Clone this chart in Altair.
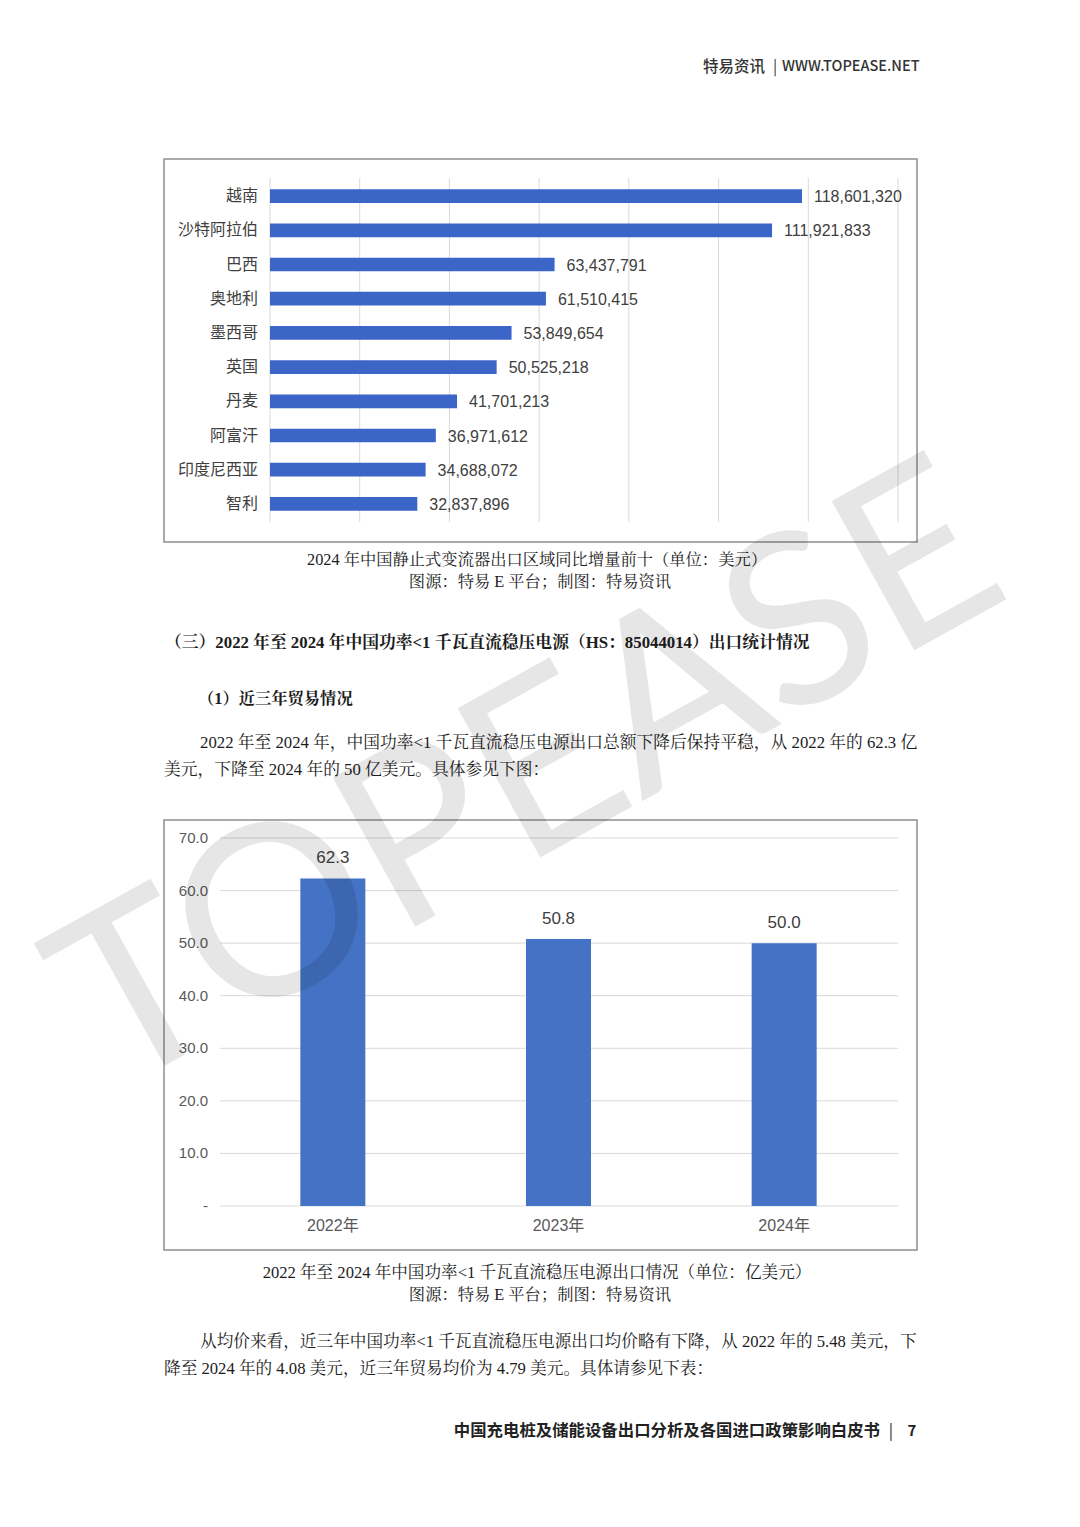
import altair as alt
import pandas as pd

# ---------------- data ----------------
countries = ["越南", "沙特阿拉伯", "巴西", "奥地利", "墨西哥", "英国", "丹麦", "阿富汗", "印度尼西亚", "智利"]
values1 = [118601320, 111921833, 63437791, 61510415, 53849654, 50525218, 41701213, 36971612, 34688072, 32837896]
grid1 = [0, 20000000, 40000000, 60000000, 80000000, 100000000, 120000000, 140000000]

years = ["2022年", "2023年", "2024年"]
values2 = [62.3, 50.8, 50.0]
ticks2 = [0, 10, 20, 30, 40, 50, 60, 70]
tick_labels2 = ["-", "10.0", "20.0", "30.0", "40.0", "50.0", "60.0", "70.0"]

df1 = pd.DataFrame({"country": countries, "value": values1})
dfg1 = pd.DataFrame({"g": grid1})
df2 = pd.DataFrame({"year": years, "value": values2})
dft2 = pd.DataFrame({"t": ticks2, "label": tick_labels2})

W, H = 1064, 1511


def P(v):
    # page pixel -> chart pixel (8px page margin)
    return v - 8


CHART_FONT = "Liberation Sans, Noto Sans CJK SC, sans-serif"
BODY_FONT = "Liberation Serif, Noto Serif CJK SC, Noto Sans CJK SC, serif"
HEAD_FONT = "Noto Sans CJK SC, sans-serif"
BAR1 = "#3B65C6"
BAR2 = "#4472C4"
GRID = "#d9d9d9"

one = alt.Data(values=[{}])


def txt(s, x, y, size=16, weight="normal", align="left", font=BODY_FONT, color="#1c1c1c"):
    return alt.Chart(one).mark_text(
        text=s, align=align, baseline="middle", fontSize=size, fontWeight=weight,
        font=font, color=color
    ).encode(x=alt.value(P(x)), y=alt.value(P(y)))


def box(x1, y1, x2, y2):
    return alt.Chart(one).mark_rect(fill="white", stroke="#8f8f8f", strokeWidth=1.5).encode(
        x=alt.value(P(x1)), x2=alt.value(P(x2)), y=alt.value(P(y1)), y2=alt.value(P(y2))
    )


# ---------------- chart 1 (horizontal bars) ----------------
x1s = alt.Scale(domain=[0, 140000000], range=[P(270), P(898)], nice=False, zero=True)
y1s = alt.Scale(domain=countries, range=[P(179), P(521)], paddingInner=0.6, paddingOuter=0.3)

grid_1 = alt.Chart(dfg1).mark_rule(color=GRID, strokeWidth=1).encode(
    x=alt.X("g:Q", scale=x1s, axis=None),
    y=alt.value(P(178)), y2=alt.value(P(522)),
)
bars_1 = alt.Chart(df1).mark_bar(color=BAR1).encode(
    x=alt.X("value:Q", scale=x1s, axis=None),
    y=alt.Y("country:N", scale=y1s, axis=None, sort=countries),
)
vlab_1 = alt.Chart(df1).mark_text(
    align="left", baseline="middle", dx=12, dy=1, fontSize=16, font=CHART_FONT, color="#404040"
).encode(
    x=alt.X("value:Q", scale=x1s, axis=None),
    y=alt.Y("country:N", scale=y1s, axis=None, sort=countries),
    text=alt.Text("value:Q", format=",d"),
)
clab_1 = alt.Chart(df1).mark_text(
    align="right", baseline="middle", fontSize=16, font=CHART_FONT, color="#404040"
).encode(
    x=alt.value(P(258)),
    y=alt.Y("country:N", scale=y1s, axis=None, sort=countries),
    text="country:N",
)

# ---------------- chart 2 (vertical bars) ----------------
x2s = alt.Scale(domain=years, range=[P(220), P(897)], paddingInner=0.712, paddingOuter=0.356)
y2s = alt.Scale(domain=[0, 70], range=[P(1206), P(838)], nice=False, zero=True)

grid_2 = alt.Chart(dft2).mark_rule(color=GRID, strokeWidth=1).encode(
    y=alt.Y("t:Q", scale=y2s, axis=None),
    x=alt.value(P(220)), x2=alt.value(P(898)),
)
bars_2 = alt.Chart(df2).mark_bar(color=BAR2).encode(
    x=alt.X("year:N", scale=x2s, axis=None, sort=years),
    y=alt.Y("value:Q", scale=y2s, axis=None),
)
vlab_2 = alt.Chart(df2).mark_text(
    align="center", baseline="middle", dy=-20, fontSize=17, font=CHART_FONT, color="#404040"
).encode(
    x=alt.X("year:N", scale=x2s, axis=None, sort=years),
    y=alt.Y("value:Q", scale=y2s, axis=None),
    text=alt.Text("value:Q", format=".1f"),
)
tlab_2 = alt.Chart(dft2).mark_text(
    align="right", baseline="middle", fontSize=15, font=CHART_FONT, color="#595959"
).encode(
    y=alt.Y("t:Q", scale=y2s, axis=None),
    x=alt.value(P(208)),
    text="label:N",
)
xlab_2 = alt.Chart(df2).mark_text(
    align="center", baseline="middle", fontSize=16, font=CHART_FONT, color="#595959"
).encode(
    x=alt.X("year:N", scale=x2s, axis=None, sort=years),
    y=alt.value(P(1226)),
    text="year:N",
)

# ---------------- page text ----------------
texts = [
    txt("特易资讯", 765, 67, size=15.5, weight=500, align="right", font=HEAD_FONT, color="#333333"),
    txt("|", 775, 67, size=15.5, weight=400, align="center", font=HEAD_FONT, color="#333333"),
    txt("WWW.TOPEASE.NET", 782, 67, size=14.5, weight=500, align="left", font=HEAD_FONT, color="#333333"),

    txt("2024 年中国静止式变流器出口区域同比增量前十（单位：美元）", 537, 560, size=16.3, align="center"),
    txt("图源：特易 E 平台；制图：特易资讯", 540, 582, size=16.3, align="center"),

    txt("（三）2022 年至 2024 年中国功率<1 千瓦直流稳压电源（HS：85044014）出口统计情况", 165, 643, size=16.8, weight="bold"),
    txt("（1）近三年贸易情况", 198, 699, size=16.3, weight="bold"),
    txt("2022 年至 2024 年，中国功率<1 千瓦直流稳压电源出口总额下降后保持平稳，从 2022 年的 62.3 亿", 200, 743, size=16.75),
    txt("美元，下降至 2024 年的 50 亿美元。具体参见下图：", 164, 770, size=16.75),

    txt("2022 年至 2024 年中国功率<1 千瓦直流稳压电源出口情况（单位：亿美元）", 537, 1273, size=16.6, align="center"),
    txt("图源：特易 E 平台；制图：特易资讯", 540, 1295, size=16.3, align="center"),

    txt("从均价来看，近三年中国功率<1 千瓦直流稳压电源出口均价略有下降，从 2022 年的 5.48 美元，下", 200, 1342, size=16.65),
    txt("降至 2024 年的 4.08 美元，近三年贸易均价为 4.79 美元。具体请参见下表：", 164, 1369, size=16.65),

    txt("中国充电桩及储能设备出口分析及各国进口政策影响白皮书", 880, 1431, size=16.4, weight="bold", align="right", font=HEAD_FONT, color="#222222"),
    txt("|", 891, 1431, size=16, weight=400, align="center", font=HEAD_FONT, color="#222222"),
    txt("7", 912, 1431, size=15, weight="bold", align="center", font=HEAD_FONT, color="#222222"),
]

watermark = alt.Chart(one).mark_text(
    text="TOPEASE", align="center", baseline="middle", fontSize=238, font="Lato, Open Sans, sans-serif",
    fontWeight="normal", angle=331, color="#000000", opacity=0.095
).encode(x=alt.value(P(530)), y=alt.value(P(782)))

layers = [box(164, 159, 917, 542), box(164, 820, 917, 1250),
          grid_1, bars_1, vlab_1, clab_1,
          grid_2, bars_2, vlab_2, tlab_2, xlab_2] + texts + [watermark]

chart = alt.layer(*layers).resolve_scale(x="independent", y="independent").properties(
    width=W, height=H, padding=0, autosize=alt.AutoSizeParams(type="none"),
    background="white",
).configure_view(stroke=None)

chart.save("out.html", embed_options={"renderer": "svg", "actions": False})
